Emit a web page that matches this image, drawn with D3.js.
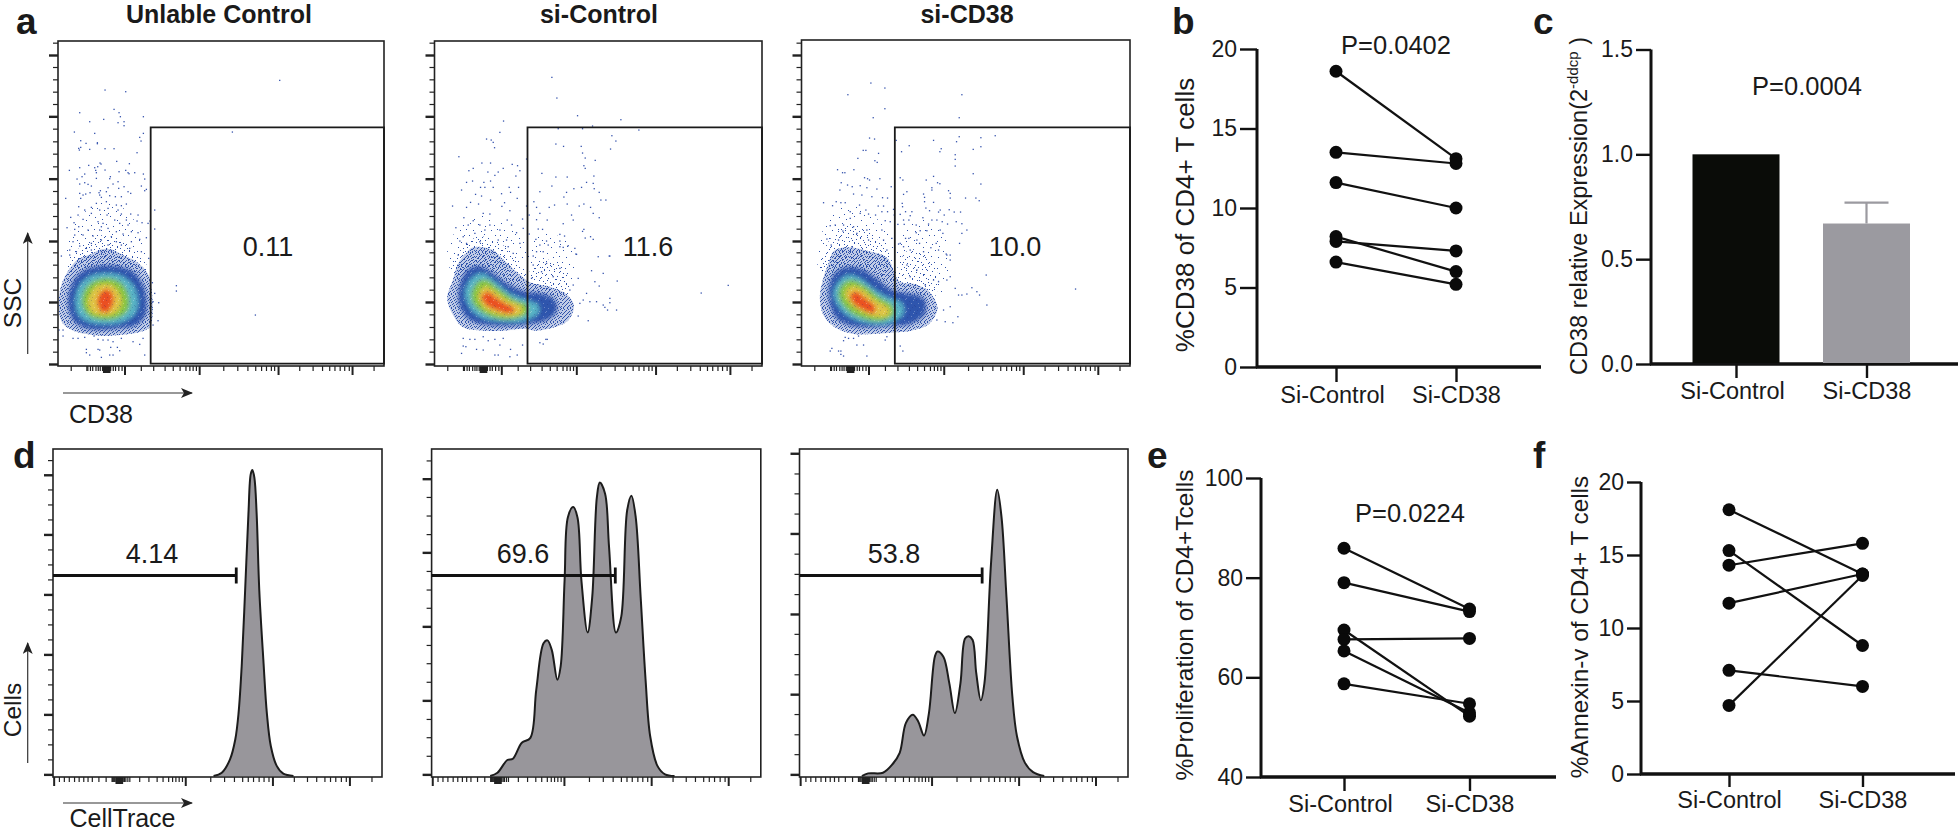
<!DOCTYPE html>
<html><head><meta charset="utf-8">
<script src="https://cdn.jsdelivr.net/npm/d3@7/dist/d3.min.js"></script>
<style>
html,body{margin:0;padding:0;background:#fff}
svg{display:block}
text{font-family:"Liberation Sans",Arial,sans-serif;fill:#1a1a1a}
</style></head><body><div id="chart"></div>
<script>
// Every value below was read by eye from the reference. Nothing is simulated.
// The flow plots' individual isolated events are read from zoomed crops; the dense
// cores (thousands of overlapping events) cannot be read one by one, so they are
// drawn as hand-traced density contours with a fixed texture, not as events.

// ---------- paired plots ----------
const categories = ["Si-Control", "Si-CD38"];
const bControl = [18.6, 13.5, 11.6, 8.2, 7.9, 6.6];
const bCD38    = [13.1, 12.8, 10.0, 6.0, 7.3, 5.2];
const eControl = [85.9, 79.0, 69.5, 67.6, 65.3, 58.7];
const eCD38    = [73.7, 73.2, 52.2, 67.8, 52.9, 54.7];
const fControl = [18.1, 15.3, 14.3, 11.7, 7.1, 4.7];
const fCD38    = [13.7, 8.8, 15.8, 13.7, 6.0, 13.6];
const bTicks = [0, 5, 10, 15, 20];
const cTicks = [0, 0.5, 1, 1.5];
const eTicks = [40, 60, 80, 100];
const fTicks = [0, 5, 10, 15, 20];

// ---------- bar plot ----------
const cValues = [1.0, 0.67];
const cError  = [0, 0.10];

// ---------- histograms: [channel 0-1000, count 0-1000] ----------
const histD1 = [[488,0],[513,10],[538,51],[554,112],[564,193],[574,346],[584,570],[594,804],[601,926],[606,939],[612,916],[619,804],[627,570],[640,346],[650,193],[662,92],[680,31],[700,7],[731,0]];
const histD2 = [[178,0],[200,10],[230,49],[247,53],[274,102],[300,117],[318,265],[340,407],[352,416],[365,387],[382,295],[392,336],[404,601],[414,794],[430,825],[443,794],[455,601],[474,440],[488,550],[502,855],[511,900],[527,866],[539,703],[560,440],[576,488],[594,815],[607,860],[620,794],[635,550],[650,295],[664,122],[686,31],[709,5],[738,0]];
const histD3 = [[190,0],[209,8],[254,10],[283,36],[305,71],[324,163],[345,188],[361,168],[379,124],[394,193],[412,366],[420,382],[438,366],[456,285],[473,193],[490,285],[504,422],[515,429],[527,417],[538,316],[552,232],[563,285],[583,652],[602,878],[615,794],[630,550],[648,244],[662,122],[686,41],[711,12],[745,0]];
const histLabels = ["4.14", "69.6", "53.8"];
const histGate = [557, 558, 556];
const histGateLevel = 615;

// ---------- flow tick positions (channel 0-1000) ----------
const flowMajor = [204,433,675,902];
const flowMinor = [39,87,90,98,105,115,122,128,135,140,145,148,152,155,160,168,175,185,195,254,292,327,352,373,391,403,413,423,507,550,581,605,623,638,653,663,740,781,810,832,848,864,878,892,968];
const flowThick = [140,144,148,152,156];
const histMajor = [2,402,667,901];
const histMinor = [18,33,48,64,78,92,105,118,138,160,178,180,183,186,190,195,198,200,203,206,209,212,216,220,226,232,262,290,315,333,350,362,372,382,392,478,520,550,575,592,608,625,640,655,732,772,800,825,842,858,875,890,968];
const histThick = [192,196,200,204,208];
const ssMajor = [6,192,375,562,749,933];
const ssMinor = [43,80,117,155,229,266,304,341,412,450,487,525,599,637,674,712,786,823,860,897,970];
const d1Major = [5,189,373,557,741,924];
const d1Minor = [51,97,143,235,281,327,419,465,511,603,649,695,787,833,879,969];
const d2Major = [5,232,459,686,912];
const d2Minor = [62,119,175,289,346,402,516,572,629,742,799,856,968];
const d3Major = [5,251,497,744,990];
const d3Minor = [67,128,190,312,374,436,558,620,682,805,867,928];

// ---------- dot-plot gates and labels ----------
const flowTitles = ["Unlable Control", "si-Control", "si-CD38"];
const flowLabels = ["0.11", "11.6", "10.0"];
const gateX = [278, 279, 280];
const gateTop = 716;
const gateBottom = 7;

// ---------- density contours: [CD38 channel, SSC channel], outermost first ----------
const a1Haze = [[[30,330],[45,420],[90,470],[140,500],[200,470],[250,400],[270,330],[150,300]]];
const a1Plume = [[[30,290],[60,350],[110,388],[170,388],[225,350],[268,290],[150,270]]];
const a1Levels = [
 [[2,178],[10,243],[34,290],[60,320],[100,336],[130,350],[160,350],[200,330],[240,310],[272,272],[282,218],[284,158],[276,118],[238,100],[190,94],[140,90],[90,95],[46,106],[14,128]],
 [[30,188],[38,238],[65,278],[110,298],[170,300],[225,283],[255,243],[265,198],[262,153],[235,123],[180,113],[120,108],[75,116],[45,138]],
 [[52,188],[60,233],[90,266],[135,278],[185,273],[225,243],[240,198],[232,158],[195,133],[140,126],[90,133],[62,153]],
 [[72,188],[80,228],[105,253],[150,263],[190,248],[212,208],[210,168],[175,143],[125,140],[90,153]],
 [[90,188],[100,223],[125,243],[160,243],[185,218],[190,183],[170,158],[130,153],[100,163]],
 [[118,198],[130,223],[150,230],[165,213],[165,188],[150,163],[130,163],[122,178]]
];
const a2Haze = [
 [[40,300],[60,400],[110,440],[170,450],[240,400],[290,330],[150,280]],
 [[290,350],[320,400],[400,370],[420,280],[400,230],[300,240]]
];
const a2Plume = [
 [[50,280],[80,350],[130,388],[185,375],[245,325],[275,265],[150,240]],
 [[285,270],[320,320],[385,295],[405,235],[385,195],[310,205]]
];
const a2Levels = [
 [[38,203],[55,258],[70,305],[92,336],[116,356],[170,350],[212,314],[256,274],[290,250],[338,240],[392,218],[418,183],[402,138],[360,116],[306,106],[266,112],[206,106],[146,106],[86,116],[55,154]],
 [[71,208],[81,258],[106,293],[141,298],[176,278],[216,248],[271,223],[316,218],[361,198],[366,163],[336,138],[286,126],[226,120],[156,123],[106,138],[81,168]],
 [[91,218],[111,263],[141,278],[176,258],[226,218],[276,198],[311,183],[311,158],[271,136],[211,133],[146,143],[111,168]],
 [[111,218],[131,253],[156,258],[191,233],[241,198],[278,183],[278,158],[246,143],[186,143],[141,163],[116,188]],
 [[131,213],[151,238],[176,228],[216,198],[261,178],[261,158],[226,150],[181,158],[146,178]],
 [[141,208],[161,223],[181,208],[211,188],[241,170],[231,158],[191,166],[156,183]]
];
const a3Haze = [
 [[50,300],[70,420],[130,480],[190,470],[260,400],[290,320],[150,280]],
 [[290,350],[330,440],[420,410],[440,300],[420,220],[330,240]]
];
const a3Plume = [
 [[55,280],[85,380],[135,420],[190,410],[250,350],[282,270],[150,240]],
 [[285,280],[325,350],[390,320],[410,240],[385,190],[310,200]]
];
const a3Levels = [
 [[55,208],[65,262],[80,305],[97,345],[136,356],[200,345],[256,325],[294,254],[340,245],[382,224],[408,173],[382,126],[330,106],[266,100],[216,96],[156,96],[100,116],[65,154]],
 [[81,213],[88,258],[111,288],[146,298],[186,288],[231,258],[271,228],[316,218],[366,203],[371,158],[326,126],[266,120],[206,116],[141,123],[101,148]],
 [[96,218],[111,253],[141,273],[176,263],[221,228],[266,203],[301,188],[306,158],[276,133],[216,126],[151,143],[111,178]],
 [[111,218],[126,248],[151,258],[186,243],[231,208],[271,183],[278,158],[251,138],[201,138],[151,158],[121,188]],
 [[131,218],[146,238],[176,233],[221,198],[261,173],[261,153],[226,148],[181,163],[146,188]],
 [[146,213],[166,223],[191,203],[221,178],[216,158],[186,168],[156,188]]
];

// ---------- isolated events ----------
const a1Events = [[665,857],[523,702],[355,241],[355,225],[592,153],[141,828],[203,823],[168,770],[183,760],[65,760],[187,748],[256,748],[137,740],[95,733],[198,733],[180,730],[198,721],[49,702],[110,698],[256,698],[245,686],[249,675],[68,676],[84,668],[118,670],[118,667],[68,656],[62,653],[64,648],[95,650],[141,652],[168,652],[237,640],[176,614],[126,609],[129,606],[214,607],[92,602],[65,595],[119,598],[110,595],[34,587],[113,587],[141,588],[183,583],[203,587],[210,580],[213,577],[230,580],[256,576],[80,576],[72,568],[115,580],[157,568],[155,562],[57,561],[115,563],[180,553],[260,561],[65,546],[80,550],[90,545],[100,540],[165,546],[182,533],[198,538],[250,540],[265,530],[260,526],[127,526],[123,520],[150,535],[145,523],[96,520],[65,518],[75,513],[83,516],[210,523],[218,518],[125,513],[155,511],[172,508],[190,508],[23,503],[68,503],[130,506],[145,493],[62,478],[100,476],[115,488],[175,483],[190,481],[205,486],[80,468],[125,468],[150,473],[180,468],[218,456],[60,453],[100,458],[147,453],[190,456],[240,453],[290,468],[290,411],[38,446],[48,430],[75,440],[120,433],[135,428],[170,438],[205,438],[237,435],[252,430],[270,428],[276,435],[27,415],[62,418],[50,410],[130,418],[185,428],[210,423],[90,408],[125,408],[150,413],[175,403],[220,403],[240,400],[50,393],[75,393],[105,390],[160,388],[195,396],[265,385],[45,373],[100,368],[130,378],[175,373],[220,373],[245,380],[65,360],[85,353],[150,363],[190,363],[35,348],[55,343],[215,353],[10,330],[35,333],[250,343],[272,323],[100,348],[130,343],[160,346],[15,90],[45,83],[60,83],[80,86],[108,90],[120,80],[135,78],[150,78],[165,73],[190,83],[225,73],[245,65],[255,83],[85,50],[85,40],[95,33],[120,50],[125,48],[158,56],[178,56],[185,46],[155,33],[165,33],[130,26],[260,33],[15,108],[3,108],[285,123],[300,136],[285,193],[302,190],[290,218],[283,250]];
const a2Events = [[881,242],[800,219],[352,866],[367,804],[429,751],[559,739],[207,735],[196,701],[474,720],[371,712],[444,712],[613,708],[156,681],[170,678],[176,671],[180,655],[532,691],[544,675],[528,651],[364,666],[387,659],[440,659],[444,639],[452,624],[482,617],[73,628],[276,621],[142,609],[168,609],[233,605],[249,601],[116,593],[103,586],[256,586],[160,582],[191,582],[206,593],[181,572],[244,570],[448,601],[452,593],[322,578],[364,567],[398,567],[478,570],[114,555],[96,551],[148,551],[168,555],[352,540],[456,551],[476,548],[138,536],[151,536],[176,536],[224,536],[252,536],[441,536],[418,532],[479,532],[81,528],[316,523],[396,521],[494,521],[123,515],[141,510],[201,517],[228,521],[388,507],[499,498],[514,498],[108,491],[168,498],[210,490],[248,503],[298,493],[398,486],[360,483],[54,480],[132,486],[202,479],[306,476],[344,476],[434,480],[448,486],[468,476],[96,476],[226,466],[276,480],[316,458],[411,453],[476,458],[146,458],[166,456],[88,445],[264,441],[284,453],[306,439],[338,438],[416,438],[494,445],[116,436],[218,438],[64,415],[136,423],[166,423],[231,423],[386,427],[311,411],[324,410],[448,410],[444,404],[101,423],[86,388],[121,398],[151,408],[196,408],[246,400],[266,413],[376,395],[390,390],[468,388],[476,380],[452,384],[284,396],[304,380],[336,375],[376,375],[76,375],[136,373],[191,378],[216,378],[256,368],[401,361],[386,356],[316,363],[341,363],[96,368],[221,358],[306,343],[326,343],[421,353],[426,335],[376,358],[491,328],[526,330],[296,330],[71,333],[236,338],[481,253],[494,240],[548,255],[526,203],[526,190],[506,183],[511,176],[519,168],[546,168],[431,150],[461,136],[424,336],[524,330],[471,286],[506,278],[456,218],[466,193],[486,193],[446,198],[436,188],[406,228],[416,243],[431,263],[376,293],[356,268],[321,283],[291,263],[296,303],[336,308],[86,83],[106,80],[121,80],[146,88],[161,76],[181,80],[206,83],[94,58],[86,60],[126,50],[81,38],[146,48],[181,33],[191,33],[226,28],[248,33],[228,50],[264,63],[316,70],[326,66],[334,80],[338,80],[196,63]];
const a3Events = [[822,231],[208,849],[250,834],[139,814],[481,814],[250,772],[215,745],[473,745],[581,691],[473,688],[538,685],[204,684],[219,681],[284,677],[396,677],[465,673],[538,658],[323,661],[515,650],[419,652],[415,643],[185,647],[193,647],[300,643],[231,638],[461,634],[461,620],[169,623],[220,616],[227,611],[461,600],[108,589],[157,589],[123,580],[130,580],[515,577],[396,569],[189,565],[235,562],[296,565],[304,558],[198,562],[204,558],[374,558],[119,550],[408,550],[415,547],[538,546],[138,543],[152,538],[176,541],[269,538],[391,535],[391,528],[115,528],[196,535],[226,531],[441,526],[316,523],[306,515],[446,518],[156,516],[181,513],[366,516],[369,506],[446,504],[492,504],[523,504],[533,496],[66,490],[104,493],[118,490],[131,490],[211,508],[243,505],[258,504],[369,493],[396,491],[93,481],[174,483],[230,480],[246,480],[302,488],[303,478],[276,470],[373,474],[384,466],[416,468],[443,469],[458,462],[477,462],[146,463],[193,468],[241,463],[258,463],[312,463],[331,463],[411,462],[428,453],[326,451],[222,453],[201,456],[176,458],[146,443],[296,455],[278,453],[364,445],[391,438],[406,438],[422,433],[464,433],[481,427],[438,426],[306,438],[322,438],[381,426],[344,423],[251,436],[266,433],[289,425],[86,421],[101,423],[126,423],[156,418],[196,408],[308,425],[496,408],[416,408],[424,398],[376,406],[356,406],[344,400],[481,398],[241,408],[124,405],[166,398],[322,383],[312,383],[296,368],[346,378],[354,368],[474,368],[404,368],[76,381],[111,378],[246,378],[271,383],[201,378],[306,358],[366,343],[388,355],[411,348],[434,336],[446,333],[291,366],[326,348],[89,363],[151,358],[256,348],[554,273],[511,235],[526,223],[534,213],[496,216],[481,213],[471,213],[556,183],[469,148],[454,130],[431,133],[406,138],[426,168],[446,178],[461,233],[446,268],[436,258],[411,253],[396,258],[371,243],[346,288],[316,303],[326,268],[436,333],[446,318],[131,86],[141,83],[126,76],[156,83],[171,90],[166,63],[186,63],[251,78],[256,88],[91,53],[86,45],[111,45],[118,45],[118,35],[126,30],[196,30],[296,60],[304,45]];

// ---------- fixed, hand-placed texture tiles ----------
const hazeTile = [[2,1],[9,3],[17,0],[24,4],[29,9],[5,7],[13,8],[20,10],[1,13],[8,14],[16,15],[26,14],[4,19],[11,21],[19,18],[23,22],[30,19],[7,25],[15,24],[27,26]];
const plumeTile = [[1,1],[5,0],[10,2],[15,1],[19,3],[3,4],[8,5],[13,6],[17,7],[0,8],[6,9],[11,10],[16,11],[20,9],[2,12],[9,13],[14,14],[18,15],[4,16],[7,17],[12,18],[20,17]];
const rimTile = [[0,0],[2,0],[3,1],[6,0],[7,1],[9,0],[11,1],[13,0],[14,2],[16,1],[1,2],[4,3],[5,2],[8,3],[10,2],[12,3],[0,4],[2,5],[3,4],[6,5],[7,4],[9,5],[11,4],[13,5],[15,4],[16,5],[1,6],[4,7],[5,6],[8,6],[10,7],[12,6],[14,7],[0,8],[3,8],[2,9],[6,9],[7,8],[9,8],[11,9],[13,8],[15,9],[16,8],[1,10],[4,11],[5,10],[8,11],[10,10],[12,11],[14,10],[0,12],[3,12],[6,13],[7,12],[9,13],[11,12],[13,13],[15,12],[2,13],[16,13]];
const speckleTile = [[1,1,0],[5,0,1],[9,2,0],[13,1,1],[3,4,1],[7,5,0],[11,4,1],[14,6,0],[0,7,0],[4,8,1],[8,9,1],[12,8,0],[2,11,0],[6,12,1],[10,11,0],[14,12,1]];

// ---------- drawing ----------
const svg = d3.select("#chart").append("svg").attr("width",1958).attr("height",834);
const defs = svg.append("defs");
const B="#2f52ab";
function pattern(id,w,h,dots,fillFn){
  const p = defs.append("pattern").attr("id",id).attr("patternUnits","userSpaceOnUse").attr("width",w).attr("height",h);
  p.selectAll("rect").data(dots).join("rect").attr("x",d=>d[0]).attr("y",d=>d[1]).attr("width",1).attr("height",1).attr("fill",fillFn);
}
pattern("hz",31,27,hazeTile,()=>B);
pattern("plume",21,19,plumeTile,()=>B);
pattern("rim",17,14,rimTile,()=>B);
pattern("spk",15,13,speckleTile,d=>d[2]?"rgba(255,255,255,.28)":"rgba(30,30,110,.22)");
const soft = defs.append("filter").attr("id","soft").attr("x","-20%").attr("y","-20%").attr("width","140%").attr("height","140%");
soft.append("feGaussianBlur").attr("stdDeviation",2.2);
const mk = defs.append("marker").attr("id","arrow").attr("viewBox","0 0 12 10").attr("refX",11).attr("refY",5)
  .attr("markerWidth",12).attr("markerHeight",10).attr("markerUnits","userSpaceOnUse").attr("orient","auto");
mk.append("path").attr("d","M0,0 L12,5 L0,10 L3,5 Z").attr("fill","#222");

function ticks(g,axisFn,scale,vals,size,width,color){
  const a = g.append("g").call(axisFn(scale).tickValues(vals).tickSize(size).tickFormat(""));
  a.select(".domain").remove();
  a.selectAll("line").attr("stroke",color||"#222").attr("stroke-width",width);
}
function label(t,x,y,size,opts){
  opts=opts||{};
  const n = svg.append("text").attr("x",x).attr("y",y).attr("font-size",size).attr("text-anchor",opts.anchor||"middle").text(t);
  if(opts.bold) n.attr("font-weight","bold");
  return n;
}
function vlabel(t,x,y,size){
  return svg.append("text").attr("transform",`translate(${x},${y}) rotate(-90)`).attr("font-size",size).attr("text-anchor","middle").text(t);
}

// dot plots
const flowPanels = [
 {l:58,r:384,t:41,b:366,tx:219,lx:268,levels:a1Levels,haze:a1Haze,plume:a1Plume,events:a1Events},
 {l:434.5,r:762,t:41,b:366,tx:599,lx:648,levels:a2Levels,haze:a2Haze,plume:a2Plume,events:a2Events},
 {l:801.5,r:1130,t:40,b:366,tx:967,lx:1015,levels:a3Levels,haze:a3Haze,plume:a3Plume,events:a3Events}
];
const levelFill = [null,"#2f55ad","#58b4c6","#86c440","#e0c445","#ea4f20"];
flowPanels.forEach((p,i)=>{
  const x = d3.scaleLinear().domain([0,(p.r-p.l)*3]).range([p.l,p.r]);
  const y = d3.scaleLinear().domain([0,(p.b-p.t)*3]).range([p.b,p.t]);
  const tx = d3.scaleLinear().domain([0,1000]).range([p.l,p.r]);
  const g = svg.append("g");
  const blob = d3.line().x(d=>x(d[0])).y(d=>y(d[1])).curve(d3.curveCatmullRomClosed);
  g.selectAll("path.haze").data(p.haze).join("path").attr("class","haze").attr("d",blob).attr("fill","url(#hz)");
  g.selectAll("path.plume").data(p.plume).join("path").attr("class","plume").attr("d",blob).attr("fill","url(#plume)");
  g.append("path").attr("d",blob(p.levels[0])).attr("fill",B).attr("fill-opacity",.3);
  g.append("path").attr("d",blob(p.levels[0])).attr("fill","url(#rim)");
  const core = g.append("g").attr("filter","url(#soft)");
  core.selectAll("path").data(p.levels.slice(1)).join("path").attr("d",blob).attr("fill",(d,k)=>levelFill[k+1]);
  g.append("path").attr("d",blob(p.levels[1])).attr("fill","url(#spk)");
  g.selectAll("rect.ev").data(p.events).join("rect").attr("class","ev")
    .attr("x",d=>x(d[0])-.6).attr("y",d=>y(d[1])-.6).attr("width",1.3).attr("height",1.3).attr("fill","#3553ad");
  g.append("rect").attr("x",p.l).attr("y",p.t).attr("width",p.r-p.l).attr("height",p.b-p.t).attr("fill","none").attr("stroke","#222").attr("stroke-width",1.6);
  g.append("path").attr("d",`M${x(gateX[i])},${y(gateBottom)} V${y(gateTop)} H${p.r} V${y(gateBottom)} Z`).attr("fill","none").attr("stroke","#1a1a1a").attr("stroke-width",1.8);
  const bx = svg.append("g").attr("transform",`translate(0,${p.b})`);
  ticks(bx,d3.axisBottom,tx,flowMinor,5,1.2);
  ticks(bx,d3.axisBottom,tx,flowMajor,9,2);
  ticks(bx,d3.axisBottom,tx,flowThick,7,2.4);
  const ly = svg.append("g").attr("transform",`translate(${p.l},0)`);
  ticks(ly,d3.axisLeft,y,ssMinor,5,1.2);
  ticks(ly,d3.axisLeft,y,ssMajor,9,2.4);
  label(flowTitles[i],p.tx,22.5,25,{bold:true});
  label(flowLabels[i],p.lx,256,27);
});

// histograms
const histPanels = [
 {l:53,r:382,lx:152,data:histD1,maj:d1Major,min:d1Minor},
 {l:431.6,r:760.8,lx:523,data:histD2,maj:d2Major,min:d2Minor},
 {l:799.5,r:1128,lx:894,data:histD3,maj:d3Major,min:d3Minor}
];
const histTop=449, histBottom=777;
histPanels.forEach((p,i)=>{
  const x = d3.scaleLinear().domain([0,1000]).range([p.l,p.r]);
  const y = d3.scaleLinear().domain([0,1000]).range([histBottom-1,histTop+1]);
  const g = svg.append("g");
  g.append("path").datum(p.data)
    .attr("d",d3.area().x(d=>x(d[0])).y0(y(0)).y1(d=>y(d[1])).curve(d3.curveCatmullRom))
    .attr("fill","#98969b").attr("stroke","none");
  g.append("path").datum(p.data)
    .attr("d",d3.line().x(d=>x(d[0])).y(d=>y(d[1])).curve(d3.curveCatmullRom))
    .attr("fill","none").attr("stroke","#1c1c1c").attr("stroke-width",2);
  g.append("rect").attr("x",p.l).attr("y",histTop).attr("width",p.r-p.l).attr("height",histBottom-histTop).attr("fill","none").attr("stroke","#222").attr("stroke-width",1.6);
  g.append("path").attr("d",`M${p.l},${y(histGateLevel)} H${x(histGate[i])} M${x(histGate[i])},${y(histGateLevel)-8} V${y(histGateLevel)+8}`).attr("fill","none").attr("stroke","#111").attr("stroke-width",2.8);
  const bx = svg.append("g").attr("transform",`translate(0,${histBottom})`);
  ticks(bx,d3.axisBottom,x,histMinor,5,1.2);
  ticks(bx,d3.axisBottom,x,histMajor,9,2);
  ticks(bx,d3.axisBottom,x,histThick,7,2.4);
  const ly = svg.append("g").attr("transform",`translate(${p.l},0)`);
  ticks(ly,d3.axisLeft,y,p.min,5,1.2);
  ticks(ly,d3.axisLeft,y,p.maj,9,2.4);
  label(histLabels[i],p.lx,563,27);
});

// axis captions and arrows
[[27.7,354,27.7,233],[63,393,192,393],[27.7,763,27.7,643],[63,803,192,803]].forEach(a=>{
  svg.append("line").attr("x1",a[0]).attr("y1",a[1]).attr("x2",a[2]).attr("y2",a[3]).attr("stroke","#333").attr("stroke-width",1.2).attr("marker-end","url(#arrow)");
});
vlabel("SSC",21,303,24.5);
vlabel("Cells",21,710,24.5);
label("CD38",101,423,25);
label("CellTrace",122.5,827,25);

// panel letters
[["a",16,34],["b",1172,34],["c",1533,34],["d",13,468],["e",1147,468],["f",1533,468]].forEach(d=>{
  label(d[0],d[1],d[2],37,{anchor:"start",bold:true});
});

function statAxes(o){
  const x = d3.scalePoint().domain(categories).range([o.x0,o.x1]);
  const y = d3.scaleLinear().domain(o.domain).range([o.yb,o.yt]);
  const ax = svg.append("g").attr("transform",`translate(${o.ax},0)`)
    .call(d3.axisLeft(y).tickValues(o.ticks).tickSize(o.tick).tickSizeOuter(0).tickPadding(3).tickFormat(o.fmt||d3.format("d")));
  ax.select(".domain").attr("stroke","#111").attr("stroke-width",3).attr("d",`M0,${o.yb}V${o.yt}`);
  ax.selectAll("line").attr("stroke","#111").attr("stroke-width",2.4);
  ax.selectAll("text").attr("font-size",23).attr("fill","#1a1a1a").style("font-family",'"Liberation Sans",Arial,sans-serif');
  const bx = svg.append("g").attr("transform",`translate(0,${o.yb})`)
    .call(d3.axisBottom(x).tickSize(o.xtick).tickSizeOuter(0).tickPadding(4));
  bx.select(".domain").attr("stroke","#111").attr("stroke-width",3.4).attr("d",`M${o.ax-1},0H${o.xEnd}`);
  bx.selectAll("line").attr("stroke","#111").attr("stroke-width",2.4);
  bx.selectAll("text").attr("font-size",23.5).attr("fill","#1a1a1a").style("font-family",'"Liberation Sans",Arial,sans-serif')
    .attr("dx",(d,i)=>i===0?o.dx:0);
  return {x,y};
}
function paired(o,left,right){
  const {x,y} = statAxes(o);
  const g = svg.append("g");
  g.selectAll("line.pair").data(left).join("line").attr("class","pair")
    .attr("x1",x(categories[0])).attr("x2",x(categories[1]))
    .attr("y1",d=>y(d)).attr("y2",(d,i)=>y(right[i])).attr("stroke","#111").attr("stroke-width",2.2);
  [left,right].forEach((s,k)=>{
    g.selectAll("circle.s"+k).data(s).join("circle").attr("class","s"+k)
      .attr("cx",x(categories[k])).attr("cy",d=>y(d)).attr("r",6.5).attr("fill","#0a0a0a");
  });
}
paired({x0:1336,x1:1456,ax:1257,yb:367,yt:49,domain:[0,20],ticks:bTicks,tick:17,xtick:15,xEnd:1541,dx:-4},bControl,bCD38);
paired({x0:1344,x1:1469.5,ax:1261,yb:777,yt:478,domain:[40,100],ticks:eTicks,tick:15,xtick:14,xEnd:1556,dx:-4},eControl,eCD38);
paired({x0:1729,x1:1862.5,ax:1641,yb:774,yt:482,domain:[0,20],ticks:fTicks,tick:14,xtick:13,xEnd:1955,dx:0},fControl,fCD38);

// bar plot
{
  const o={x0:1736,x1:1866.5,ax:1651,yb:364,yt:49.5,domain:[0,1.5],ticks:cTicks,tick:15,xtick:14,xEnd:1958,dx:-4,fmt:d3.format(".1f")};
  const {x,y} = statAxes(o);
  const g = svg.append("g");
  const colors=["#0a0c08","#9b9aa0"];
  const barW=87;
  g.selectAll("rect").data(cValues).join("rect")
    .attr("x",(d,i)=>x(categories[i])-barW/2).attr("width",barW)
    .attr("y",d=>y(d)).attr("height",d=>y(0)-y(d)-1).attr("fill",(d,i)=>colors[i]);
  cValues.forEach((v,i)=>{
    if(!cError[i]) return;
    const cx=x(categories[i]);
    g.append("path").attr("d",`M${cx},${y(v)} V${y(v+cError[i])} M${cx-22},${y(v+cError[i])} H${cx+22}`)
      .attr("stroke","#9b9aa0").attr("stroke-width",2.2).attr("fill","none");
  });
}

// stat captions
label("P=0.0402",1396,54,25.5);
label("P=0.0004",1807,95,25.5);
label("P=0.0224",1410,522,25.5);
vlabel("%CD38 of CD4+ T cells",1194,215,26);
vlabel("%Proliferation of CD4+Tcells",1193,625,24.5);
vlabel("%Annexin-v of CD4+ T cells",1588,627,24.3);
const cl = vlabel("",1587,206,23.5);
cl.append("tspan").text("CD38 relative Expression(2");
cl.append("tspan").attr("font-size",15).attr("dy",-9).text("-ddcp");
cl.append("tspan").attr("dy",9).text(" )");
</script></body></html>
